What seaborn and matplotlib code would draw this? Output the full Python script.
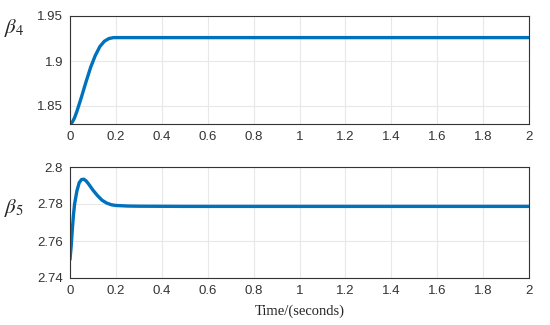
import matplotlib
matplotlib.use("Agg")
import matplotlib.pyplot as plt
import seaborn as sns
import pandas as pd

# beta4 response
t4 = [0, 0.01, 0.02, 0.03, 0.05, 0.07, 0.09, 0.11, 0.13, 0.15, 0.17, 0.19, 0.22, 0.3, 0.5, 1.0, 1.5, 2.0]
beta4 = [1.830, 1.832, 1.837, 1.844, 1.860, 1.877, 1.893, 1.906, 1.916, 1.922, 1.925, 1.926, 1.926,
         1.926, 1.926, 1.926, 1.926, 1.926]

# beta5 response
t5 = [0, 0.005, 0.01, 0.015, 0.02, 0.03, 0.04, 0.05, 0.06, 0.07, 0.08, 0.1, 0.12, 0.14, 0.16, 0.18,
      0.2, 0.25, 0.3, 0.5, 1.0, 1.5, 2.0]
beta5 = [2.750, 2.757, 2.766, 2.774, 2.780, 2.787, 2.7915, 2.7932, 2.7934, 2.7925, 2.791, 2.7875,
         2.7845, 2.782, 2.7805, 2.7796, 2.7792, 2.7789, 2.7788, 2.7787, 2.7787, 2.7787, 2.7787]

sns.set_style("white")
plt.rcParams['font.family'] = ['Liberation Sans', 'DejaVu Sans']

blue = "#0072BD"
fig = plt.figure(figsize=(5.5, 3.25), dpi=100)
ax1 = fig.add_axes([70/550, 1 - 124/325, 459/550, 108/325])
ax2 = fig.add_axes([70/550, 1 - 278/325, 459/550, 111/325])

sns.lineplot(data=pd.DataFrame({"t": t4, "b": beta4}), x="t", y="b", ax=ax1, color=blue, lw=2.4)
sns.lineplot(data=pd.DataFrame({"t": t5, "b": beta5}), x="t", y="b", ax=ax2, color=blue, lw=2.4)

ax1.set_ylim(1.83, 1.95)
ax1.set_yticks([1.85, 1.9, 1.95])
ax1.set_yticklabels(["1.85", "1.9", "1.95"])
ax2.set_ylim(2.74, 2.8)
ax2.set_yticks([2.74, 2.76, 2.78, 2.8])
ax2.set_yticklabels(["2.74", "2.76", "2.78", "2.8"])

xt = [0, 0.2, 0.4, 0.6, 0.8, 1, 1.2, 1.4, 1.6, 1.8, 2]
xl = ["0", "0.2", "0.4", "0.6", "0.8", "1", "1.2", "1.4", "1.6", "1.8", "2"]
for ax in (ax1, ax2):
    ax.set_xlim(0, 2)
    ax.set_xticks(xt)
    ax.set_xticklabels(xl)
    ax.grid(True, color="#e8e8e8", lw=0.8)
    ax.set_xlabel("")
    ax.set_ylabel("")
    ax.tick_params(labelsize=9.5, colors="#333333", direction="in", length=3, width=0.6, pad=5)
    for s in ax.spines.values():
        s.set_color("#333333")
        s.set_linewidth(0.8)

fig.text(14/550, 1 - 28/325, r"$\beta_4$", fontsize=15, ha="center", va="center",
         math_fontfamily="stix")
fig.text(14/550, 1 - 208/325, r"$\beta_5$", fontsize=15, ha="center", va="center",
         math_fontfamily="stix")
fig.text(300/550, 1 - 311/325, "Time/(seconds)", fontsize=10.5, ha="center", va="center",
         family=["Liberation Serif", "DejaVu Serif"])

fig.savefig("out.png", dpi=100)
